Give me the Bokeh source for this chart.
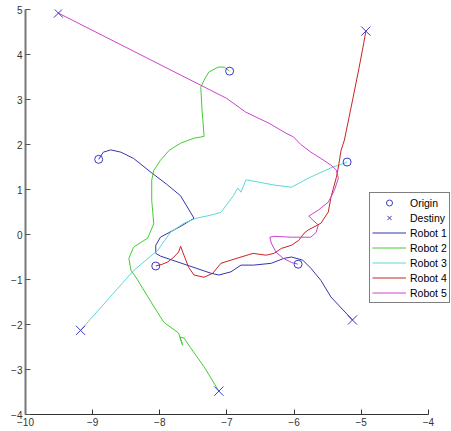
from bokeh.plotting import figure
from bokeh.models import Legend, LegendItem, FixedTicker, Range1d
from bokeh.embed import file_html
from bokeh.resources import INLINE

# Robot paths (data coordinates)
r1_x = [-8.91, -8.84, -8.73, -8.58, -8.39, -8.13, -7.90, -7.69, -7.49, -7.69, -7.99, -8.06, -8.06, -7.99,
        -7.24, -7.12, -6.94, -6.79, -6.60, -6.34, -6.15, -6.04, -5.87, -5.75, -5.60, -5.45, -5.13]
r1_y = [1.67, 1.83, 1.88, 1.83, 1.69, 1.38, 1.12, 0.86, 0.36, 0.18, -0.06, -0.24, -0.42, -0.48,
        -0.86, -0.90, -0.83, -0.68, -0.68, -0.64, -0.53, -0.50, -0.57, -0.75, -1.02, -1.39, -1.90]

r2_x = [-6.96, -7.04, -7.13, -7.27, -7.34, -7.39, -7.37, -7.34, -7.49, -7.69, -7.86, -7.99, -8.09, -8.12,
        -8.12, -8.09, -8.18, -8.39, -8.46, -8.43, -8.33, -8.13, -7.94, -7.72, -7.66, -7.70, -7.64,
        -7.54, -7.34, -7.12]
r2_y = [3.63, 3.72, 3.72, 3.61, 3.43, 3.27, 2.76, 2.18, 2.14, 2.03, 1.87, 1.65, 1.42, 1.21,
        0.76, 0.24, -0.08, -0.28, -0.53, -0.79, -1.01, -1.50, -1.95, -2.19, -2.46, -2.28, -2.30,
        -2.52, -2.94, -3.48]

r3_x = [-5.21, -5.33, -5.42, -5.60, -5.79, -6.04, -6.30, -6.69, -6.72, -6.79, -6.84, -6.90, -7.01,
        -7.09, -7.24, -7.46, -7.64, -7.84, -8.03, -8.39, -9.18]
r3_y = [1.61, 1.54, 1.50, 1.38, 1.25, 1.05, 1.10, 1.21, 1.21, 0.94, 1.03, 0.87, 0.65,
        0.49, 0.43, 0.36, 0.25, 0.05, -0.35, -0.80, -2.13]

r4_x = [-8.06, -7.96, -7.88, -7.79, -7.72, -7.69, -7.64, -7.57, -7.49, -7.34, -7.21, -7.09, -6.94,
        -6.79, -6.61, -6.42, -6.30, -6.19, -6.04, -5.93, -5.85, -5.79, -5.60, -5.49, -5.45, -5.37,
        -5.34, -5.30, -5.25, -5.22, -5.12, -5.03, -4.96, -4.93]
r4_y = [-0.70, -0.66, -0.61, -0.50, -0.39, -0.26, -0.46, -0.73, -0.90, -0.95, -0.86, -0.64, -0.57,
        -0.50, -0.42, -0.46, -0.42, -0.31, -0.24, -0.13, 0.03, 0.10, 0.25, 0.50, 0.83, 1.27,
        1.50, 1.87, 2.10, 2.32, 3.05, 3.72, 4.27, 4.52]

r5_x = [-5.94, -6.04, -6.16, -6.27, -6.34, -6.36, -6.30, -6.04, -5.75, -5.67, -5.64, -5.72, -5.78,
        -5.64, -5.49, -5.40, -5.34, -5.37, -5.45, -5.60, -5.75, -5.90, -6.01, -6.12, -6.37, -6.72,
        -7.01, -9.51]
r5_y = [-0.66, -0.62, -0.53, -0.39, -0.19, -0.06, -0.04, -0.06, -0.06, 0.05, 0.21, 0.32, 0.41,
        0.54, 0.72, 0.98, 1.25, 1.43, 1.54, 1.69, 1.83, 2.00, 2.17, 2.25, 2.47, 2.72,
        3.03, 4.92]

origin_x = [-8.91, -6.96, -5.21, -8.06, -5.94]
origin_y = [1.67, 3.63, 1.61, -0.70, -0.66]
destiny_x = [-5.13, -7.12, -9.18, -4.93, -9.51]
destiny_y = [-1.90, -3.48, -2.13, 4.52, 4.92]

x_ticks = [-10, -9, -8, -7, -6, -5, -4]
y_ticks = [-4, -3, -2, -1, 0, 1, 2, 3, 4, 5]

robot_labels = ["Robot 1", "Robot 2", "Robot 3", "Robot 4", "Robot 5"]
robot_colors = ["#3535b0", "#44cc33", "#5ad8d8", "#c82424", "#cc44cc"]
marker_color = "#3a3ac8"

# x range extends slightly past -4 so that the legend (which sits past the
# axis end in the reference) is inside the frame; the axis itself stops at -4
p = figure(width=450, height=430, output_backend="svg", toolbar_location=None,
           x_range=Range1d(-10, -3.67), y_range=Range1d(-4, 5),
           min_border_left=25, min_border_right=0, min_border_top=9, min_border_bottom=16)
p.outline_line_color = None
p.xgrid.visible = False
p.ygrid.visible = False
p.background_fill_color = "white"
p.border_fill_color = "white"

for ax in (p.xaxis[0], p.yaxis[0]):
    ax.major_tick_in = 5
    ax.major_tick_out = 0
    ax.minor_tick_in = 0
    ax.minor_tick_out = 0
    ax.major_label_text_font = "Liberation Sans"
    ax.major_label_text_font_size = "10px"
    ax.major_label_text_color = "#333333"
    ax.major_label_standoff = 3
p.xaxis.ticker = FixedTicker(ticks=x_ticks)
p.yaxis.ticker = FixedTicker(ticks=y_ticks)
p.xaxis.bounds = (-10, -4)
p.xaxis.axis_line_color = "#333333"
p.xaxis.major_tick_line_color = "#333333"
p.yaxis.axis_line_color = "#777777"
p.yaxis.axis_line_width = 2
p.yaxis.major_tick_line_color = "#555555"

paths = [(r1_x, r1_y), (r2_x, r2_y), (r3_x, r3_y), (r4_x, r4_y), (r5_x, r5_y)]
line_renderers = []
for (xs, ys), c in zip(paths, robot_colors):
    line_renderers.append(p.line(xs, ys, line_color=c, line_width=1))

r_or = p.scatter(origin_x, origin_y, marker="circle", size=8, fill_color=None,
                 line_color=marker_color, line_width=1)
r_de = p.scatter(destiny_x, destiny_y, marker="x", size=13,
                 line_color=marker_color, line_width=1)

items = [LegendItem(label="Origin", renderers=[r_or]),
         LegendItem(label="Destiny", renderers=[r_de])]
for lab, r in zip(robot_labels, line_renderers):
    items.append(LegendItem(label=lab, renderers=[r]))

legend = Legend(items=items, location=(344, 111))
legend.glyph_width = 34
legend.glyph_height = 15
legend.label_height = 15
legend.spacing = 0
legend.padding = 2
legend.margin = 0
legend.label_standoff = 4
legend.label_text_font = "Liberation Sans"
legend.label_text_font_size = "10.5px"
legend.label_text_color = "black"
legend.border_line_color = "black"
legend.border_line_width = 1
legend.background_fill_color = "white"
legend.background_fill_alpha = 1
p.add_layout(legend, "center")

open("out.html", "w").write(file_html(p, INLINE))
